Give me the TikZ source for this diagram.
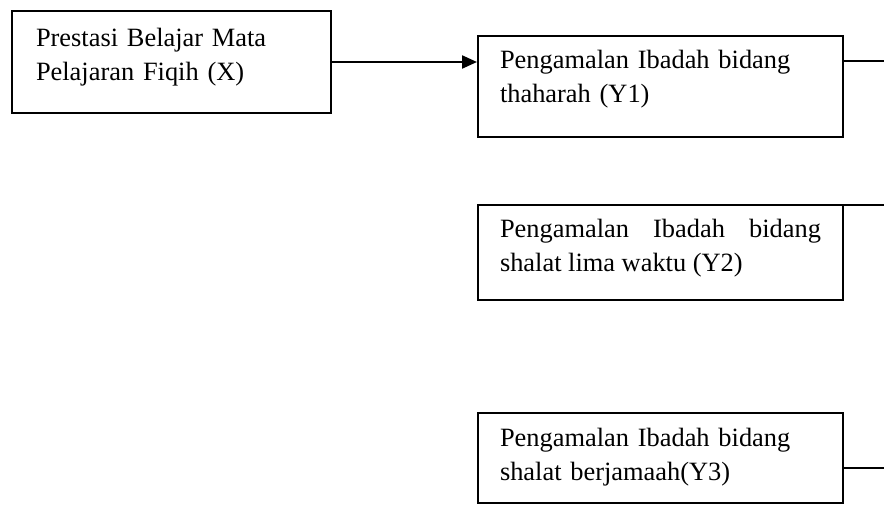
\documentclass[tikz,border=0pt]{standalone}
\usepackage{fontspec}
\setmainfont{Liberation Serif}
\usepackage{tikz}
\usetikzlibrary{arrows.meta}

\begin{document}
\begin{tikzpicture}[x=1pt,y=1pt,
box/.style={draw, line width=2, anchor=north west, inner xsep=22, inner ysep=0,
  text width=321, text height=33, font=\fontsize{26.4}{34}\selectfont}]
\useasboundingbox (0,0) rectangle (884,504);

\node[box, inner xsep=24, text width=271, text height=36, text depth=66, align=left] (x) at (11,494)
  {Prestasi Belajar Mata\\ Pelajaran Fiqih (X)};
\node[box, text depth=68, align=left] (y1) at (477,469)
  {Pengamalan Ibadah bidang\\ thaharah (Y1)};
\node[box, text depth=62, align=justify] (y2) at (477,300)
  {Pengamalan Ibadah bidang shalat lima waktu (Y2)};
\node[box, text depth=57, align=left] (y3) at (477,92)
  {Pengamalan Ibadah bidang\\ shalat berjamaah(Y3)};

\coordinate (y1out) at (884,443);
\coordinate (y2out) at (884,299);
\coordinate (y3out) at (884,36);

\draw[line width=2.2, -{Triangle[length=15pt,width=13pt]}] (x.east) -- (x.east -| y1.west);
\draw[line width=1.8] (y1out -| y1.east) -- (y1out);
\draw[line width=1.8] (y2out -| y2.east) -- (y2out);
\draw[line width=1.8] (y3out -| y3.east) -- (y3out);
\end{tikzpicture}
\end{document}
